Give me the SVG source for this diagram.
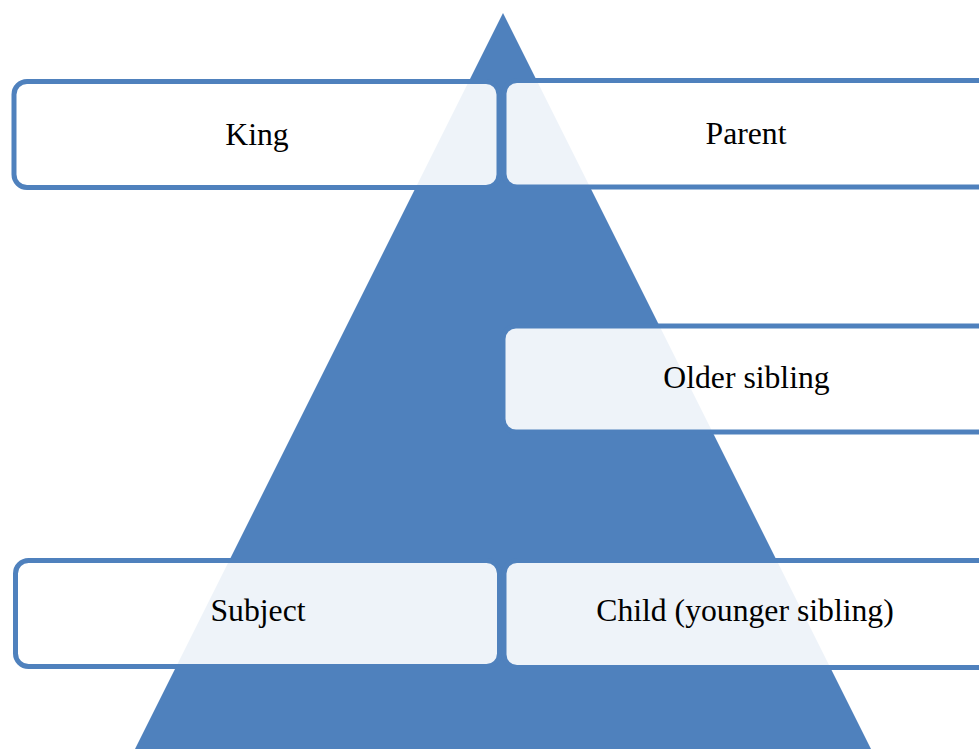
<svg xmlns="http://www.w3.org/2000/svg" width="979" height="749" viewBox="0 0 979 749">
<style>
.box{fill:#ffffff;fill-opacity:0.9;stroke:#4F81BD;stroke-width:5}
.lbl{font-family:"Liberation Serif","Times New Roman",serif;font-size:31.7px;fill:#000;text-anchor:middle}
</style>
<rect x="0" y="0" width="979" height="749" fill="#ffffff"/>
<polygon id="pyramid" points="503,13 135,749 871,749" fill="#4F81BD"/>
<g id="connectors"></g>
<g id="king"><rect class="box" x="14" y="81.5" width="485" height="106" rx="13"/><text class="lbl" x="257" y="145">King</text></g>
<g id="parent"><rect class="box" x="504" y="80.5" width="490" height="106.5" rx="13"/><text class="lbl" x="746" y="144">Parent</text></g>
<g id="older"><rect class="box" x="503" y="326" width="490" height="106" rx="13"/><text class="lbl" x="746.5" y="388">Older sibling</text></g>
<g id="subject"><rect class="box" x="15.5" y="560.5" width="484" height="106" rx="13"/><text class="lbl" x="258" y="621">Subject</text></g>
<g id="child"><rect class="box" x="504" y="560.5" width="490" height="107" rx="13"/><text class="lbl" x="745" y="621">Child (younger sibling)</text></g>
</svg>
